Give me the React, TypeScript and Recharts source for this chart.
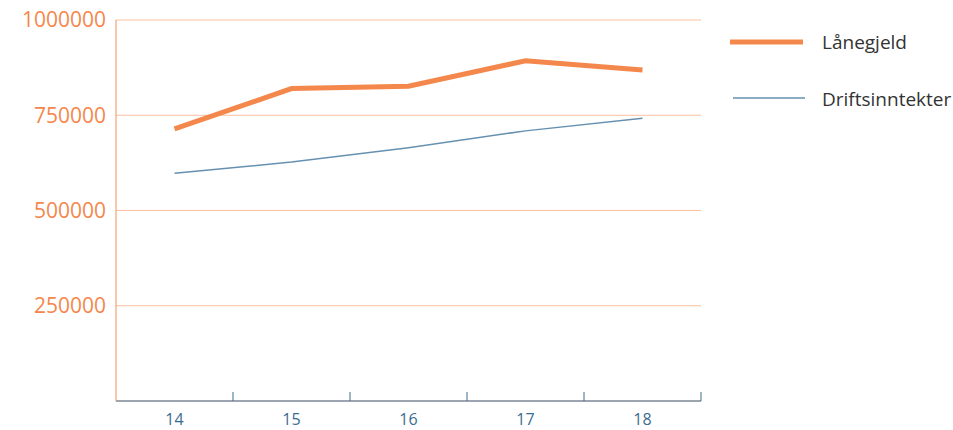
import React from 'react';
import { ComposedChart, Line, XAxis, YAxis, CartesianGrid, Legend } from 'recharts';

const years = ['14', '15', '16', '17', '18'];
const laanegjeld = [714000, 820000, 826000, 893000, 869000];
const driftsinntekter = [598000, 627000, 665000, 709000, 742000];
const yTicks = [250000, 500000, 750000, 1000000];

const data = years.map((y, i) => ({ year: y, laanegjeld: laanegjeld[i], driftsinntekter: driftsinntekter[i] }));

const ORANGE = '#f4874b';
const BLUE = '#6690b0';
const AXIS_BLUE = '#3b6c91';
const FONT = '"Open Sans", "Noto Sans", sans-serif';
const BAND_PAD = 58.5;

const XTick = (props: any) => {
  const { x, y, payload, width } = props;
  const half = width ? width / (2 * years.length) : BAND_PAD;
  return (
    <g>
      <line x1={x + half} x2={x + half} y1={y} y2={y - 9} stroke={AXIS_BLUE} strokeWidth={1} />
      <text x={x} y={y + 24} textAnchor="middle" fill={AXIS_BLUE} fontSize={16} fontFamily={FONT}>
        {payload.value}
      </text>
    </g>
  );
};

const LegendContent = () => (
  <svg width={233} height={100} style={{ display: 'block' }}>
    <line x1={10} x2={83} y1={22} y2={22} stroke={ORANGE} strokeWidth={5} />
    <text x={102} y={22} dominantBaseline="central" fill="#333" fontSize={19} fontFamily={FONT}>Lånegjeld</text>
    <line x1={13} x2={85} y1={78} y2={78} stroke={BLUE} strokeWidth={1.5} />
    <text x={102} y={79} dominantBaseline="central" fill="#333" fontSize={19} fontFamily={FONT}>Driftsinntekter</text>
  </svg>
);

export default function App() {
  return (
    <div style={{ position: 'absolute', left: 0, top: 0 }}>
      <ComposedChart width={953} height={430} data={data} margin={{ top: 20, right: 19, bottom: 0, left: 0 }}>
        <CartesianGrid horizontal={true} vertical={false} stroke="#fbc1a0" strokeWidth={1} />
        <XAxis
          dataKey="year"
          stroke={AXIS_BLUE}
          height={29}
          tickSize={0}
          tickMargin={0}
          tickLine={false}
          tick={<XTick />}
          interval={0}
          padding={{ left: BAND_PAD, right: BAND_PAD }}
        />
        <YAxis
          width={116}
          domain={[0, 1000000]}
          ticks={yTicks}
          stroke="#f48f5a"
          tickLine={false}
          tickMargin={4}
          tick={{ fill: ORANGE, fontSize: 21, fontFamily: FONT }}
        />
        <Legend
          layout="horizontal"
          verticalAlign="middle"
          align="right"
          content={<LegendContent />}
          wrapperStyle={{ left: 720, top: 20, width: 233, height: 100 }}
        />
        <Line dataKey="driftsinntekter" stroke={BLUE} strokeWidth={1.5} dot={false} isAnimationActive={false} />
        <Line dataKey="laanegjeld" stroke={ORANGE} strokeWidth={5} dot={false} isAnimationActive={false} />
      </ComposedChart>
    </div>
  );
}
